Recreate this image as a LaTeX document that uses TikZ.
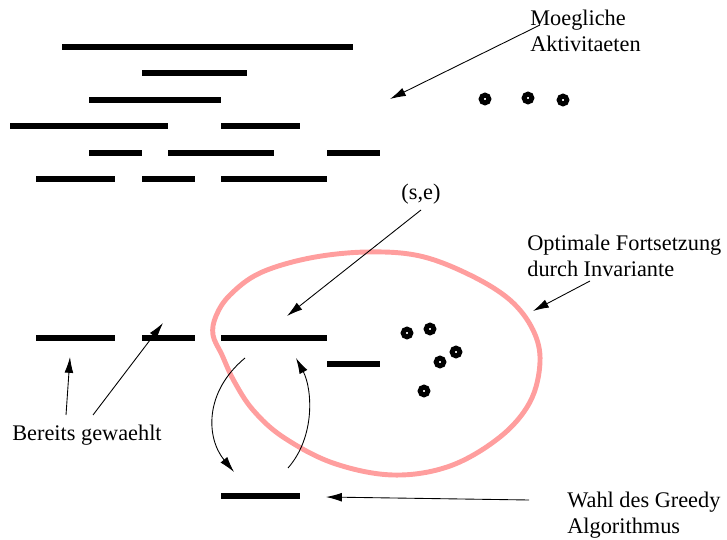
\documentclass[tikz,border=0pt]{standalone}
\usepackage{fontspec}
\setmainfont{Liberation Serif}
\usetikzlibrary{arrows.meta}

\definecolor{blobpink}{RGB}{255,158,158}

\begin{document}
\begin{tikzpicture}[x=0.02cm, y=-0.02cm,
    bar/.style={line width=3.3pt},
    pointer/.style={line width=0.5pt, -{Latex[length=9pt,width=5pt]}},
    dot/.style={circle, draw=black, fill=white, line width=2.8pt, minimum size=4.4pt, inner sep=0pt},
    label/.style={font=\fontsize{12.7}{14.7}\selectfont, align=left, inner sep=0pt}]
    \useasboundingbox (0,0) rectangle (727,540);

    % Possible activities
    \draw[bar] (62,47) -- (353,47);
    \draw[bar] (142,73) -- (247,73);
    \draw[bar] (89,100) -- (221,100);
    \draw[bar] (10,126) -- (168,126);
    \draw[bar] (221,126) -- (300,126);
    \draw[bar] (89,153) -- (142,153);
    \draw[bar] (168,153) -- (274,153);
    \draw[bar] (327,153) -- (380,153);
    \draw[bar] (36,179) -- (115,179);
    \draw[bar] (142,179) -- (195,179);
    \draw[bar] (221,179) -- (327,179);
    \node[dot] (d1) at (485,99) {};
    \node[dot] (d2) at (528,98) {};
    \node[dot] (d3) at (563,100) {};

    % Optimal continuation
    \draw[blobpink, line width=2.8pt] plot[smooth cycle, tension=0.6] coordinates {
        (213,335) (222,355) (234,381) (253,410) (283,437) (333,463) (393,475)
        (450,466) (500,437) (530,402) (540,362) (533,330) (510,300)
        (470,275) (420,256) (367,252) (310,258) (260,273) (230,295) (216,316)};

    % Chosen so far
    \draw[bar] (36,338) -- (115,338);
    \draw[bar] (142,338) -- (195,338);
    \draw[bar] (221,338) -- (327,338);
    \draw[bar] (327,364) -- (380,364);
    \draw[bar] (221,496) -- (300,496);
    \node[dot] (e1) at (407,333) {};
    \node[dot] (e2) at (430,329) {};
    \node[dot] (e3) at (456,352) {};
    \node[dot] (e4) at (440,362) {};
    \node[dot] (e5) at (424,391) {};

    % Labels
    \node[label, anchor=west] (moeg) at (530,31) {Moegliche\\Aktivitaeten};
    \node[label] (se) at (421,194) {(s,e)};
    \node[label, anchor=west] (opt) at (527,256) {Optimale Fortsetzung\\durch Invariante};
    \node[label, anchor=west] (ber) at (12,435) {Bereits gewaehlt};
    \node[label, anchor=west] (wahl) at (567,515) {Wahl des Greedy\\Algorithmus};

    % Arrow ends
    \coordinate (moegA) at (540,25);
    \coordinate (moegB) at (390,99);
    \coordinate (seA) at (421,210);
    \coordinate (seB) at (287,316);
    \coordinate (optA) at (590,281);
    \coordinate (optB) at (533,311);
    \coordinate (berA) at (66,415);
    \coordinate (berB) at (70,357);
    \coordinate (berC) at (93,415);
    \coordinate (berD) at (163,323);
    \coordinate (wahlA) at (529,500);
    \coordinate (wahlB) at (326,497);
    \coordinate (swapA) at (245,358);
    \coordinate (swapB) at (234,472);
    \coordinate (swapC) at (288,468);
    \coordinate (swapD) at (296,358);

    \draw[pointer] (moegA) -- (moegB);
    \draw[pointer] (seA) -- (seB);
    \draw[pointer] (optA) -- (optB);
    \draw[pointer] (berA) -- (berB);
    \draw[pointer] (berC) -- (berD);
    \draw[pointer] (wahlA) -- (wahlB);
    \draw[pointer] (swapA) .. controls (204,392) and (206,438) .. (swapB);
    \draw[pointer] (swapC) .. controls (316,436) and (312,388) .. (swapD);
\end{tikzpicture}
\end{document}
